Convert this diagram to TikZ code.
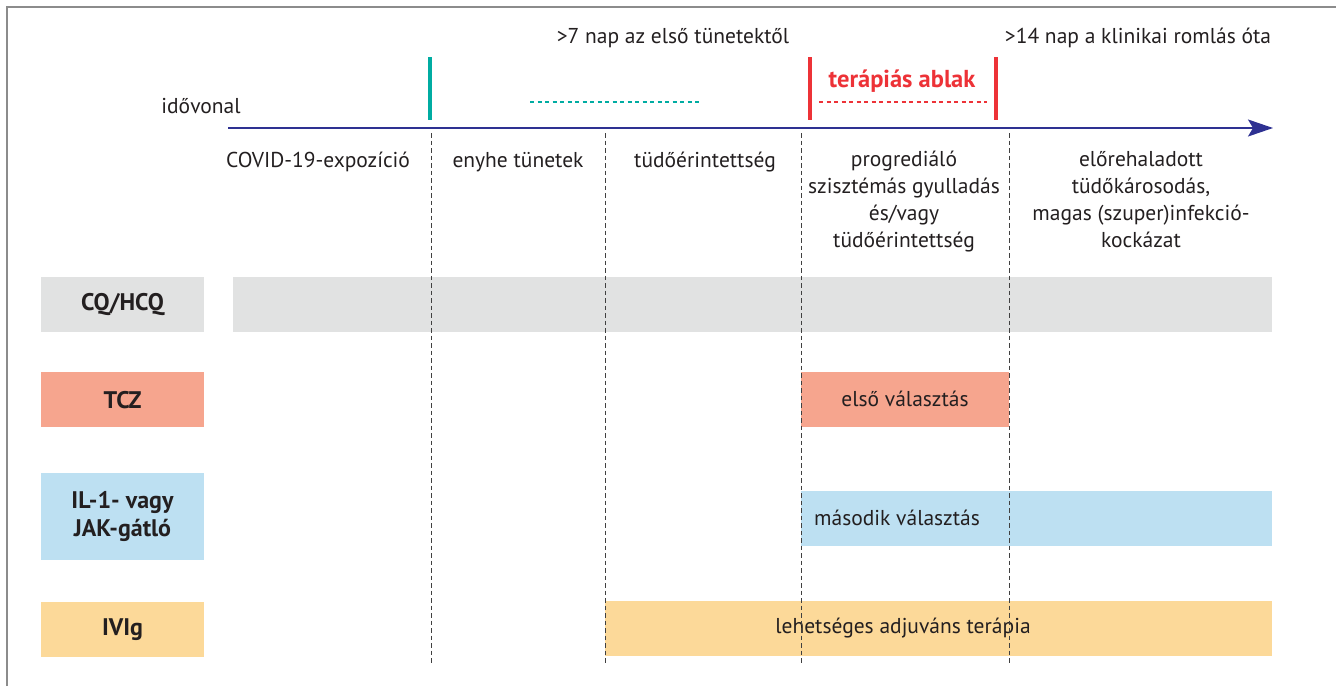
\documentclass[tikz,border=0pt]{standalone}
\usepackage{fontspec}
\setmainfont{PT Sans}
\usepackage{xcolor}
\usepackage{tikz}
\usetikzlibrary{arrows.meta, positioning, calc}
\definecolor{timeblue}{RGB}{46,49,146}
\definecolor{tealmark}{RGB}{0,172,162}
\definecolor{redmark}{RGB}{237,50,55}
\definecolor{greybar}{RGB}{225,226,226}
\definecolor{salmonbar}{RGB}{246,165,142}
\definecolor{bluebar}{RGB}{189,224,242}
\definecolor{yellowbar}{RGB}{252,217,153}
\definecolor{textgrey}{RGB}{35,31,32}
\tikzset{
  txt/.style={font=\fontsize{21.5}{27}\selectfont, text=textgrey, inner sep=0pt},
  coltxt/.style={txt, align=center, anchor=base},
  rowlabel/.style={rectangle, fill=#1, inner sep=0pt, minimum width=163pt,
                   minimum height=55pt, align=center, text=textgrey,
                   font=\fontsize{24}{28}\selectfont\bfseries},
  bar/.style={rectangle, fill=#1, inner sep=0pt, minimum height=55pt,
              anchor=north west},
  timeline/.style={draw=timeblue, line width=1.6pt,
                   -{Stealth[length=25pt, width=17pt, inset=5pt]}},
  winmark/.style={draw=#1, line width=3.2pt},
  windots/.style={draw=#1, line width=1.8pt, dash pattern=on 4pt off 3.5pt},
  divider/.style={draw=black!75, line width=0.9pt, dash pattern=on 4.5pt off 3pt},
}
\begin{document}
\begin{tikzpicture}[x=1pt, y=-1pt]
\useasboundingbox (0,0) rectangle (1336,686);

% ── Frame ─────────────────────────────────────────────────────────────────────
\draw[black!45, line width=2pt] (7,686) -- (7,7) -- (1336,7);

% ── Timeline ──────────────────────────────────────────────────────────────────
\coordinate (tstart) at (228,128);
\coordinate (tend)   at (1273,128);
\draw[timeline] (tstart) -- (tend);
\node[txt, anchor=base] (timelabel) at (201,113) {idővonal};

% ── Markers above the timeline ────────────────────────────────────────────────
\coordinate (teal top) at (430,57);
\coordinate (red1 top) at (810,57);
\coordinate (red2 top) at (996,57);
\draw[winmark=tealmark] (teal top) -- ++(0,63);
\draw[winmark=redmark]  (red1 top) -- ++(0,63);
\draw[winmark=redmark]  (red2 top) -- ++(0,63);

\coordinate (tealdot a) at (530,102);
\coordinate (tealdot b) at (699,102);
\coordinate (reddot a)  at (819,102);
\coordinate (reddot b)  at (987,102);
\draw[windots=tealmark] (tealdot a) -- (tealdot b);
\draw[windots=redmark]  (reddot a) -- (reddot b);

\node[txt, anchor=base] (seven) at (673,43) {>7 nap az első tünetektől};
\node[txt, anchor=base] (fourteen) at (1138,43) {>14 nap a klinikai romlás óta};
\node[txt, anchor=base, text=redmark, font=\fontsize{24.5}{28}\selectfont\bfseries]
  (window) at (902,87) {terápiás ablak};

% ── Phases ────────────────────────────────────────────────────────────────────
\node[coltxt] (expo) at (318,167) {COVID-19-expozíció};
\node[coltxt] (mild) at (518,167) {enyhe tünetek};
\node[coltxt] (lung) at (705,167) {tüdőérintettség};
\node[coltxt] (prog) at (904,247)
  {progrediáló\\szisztémás gyulladás\\és/vagy\\tüdőérintettség};
\node[coltxt] (late) at (1141,247)
  {előrehaladott\\tüdőkárosodás,\\magas (szuper)infekció-\\kockázat};

% ── Drug rows: labels ─────────────────────────────────────────────────────────
\node[rowlabel=greybar] (lbcq) at (122.5,304.5) {CQ/HCQ};
\node[rowlabel=salmonbar, below=40pt of lbcq] (lbtcz) {TCZ};
\node[rowlabel=bluebar, minimum height=87pt, below=45pt of lbtcz] (lbil)
  {IL-1- vagy\\JAK-gátló};
\node[rowlabel=yellowbar, below=42pt of lbil] (lbivig) {IVIg};

% ── Drug rows: bars ───────────────────────────────────────────────────────────
\node[bar=greybar, minimum width=1039pt] (barcq) at (233,277) {};
\node[bar=salmonbar, minimum width=208pt] (bartcz) at (801,372) {};
\node[bar=bluebar, minimum width=471pt] (baril) at (801,491) {};
\node[bar=yellowbar, minimum width=667pt] (barivig) at (605,601) {};

\node[txt] (first) at (905,399) {első választás};
\node[txt] (second) at (897,518) {második választás};
\node[txt] (adjuv) at (903,628) {lehetséges adjuváns terápia};

% ── Dividers ──────────────────────────────────────────────────────────────────
\foreach \dx in {431,605,801,1009}
  \draw[divider] (\dx,133) -- (\dx,665);

\end{tikzpicture}
\end{document}
